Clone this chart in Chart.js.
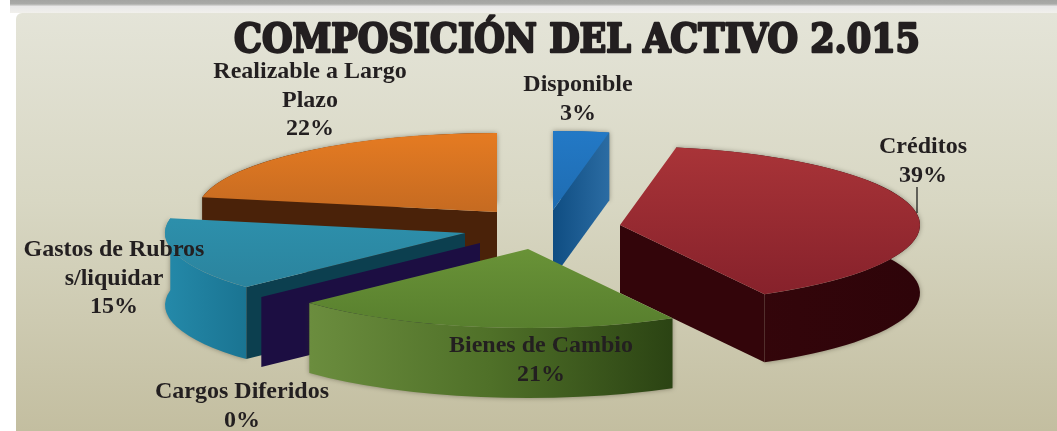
<!DOCTYPE html>
<html><head><meta charset="utf-8">
<script src="https://cdn.jsdelivr.net/npm/chart.js@4"></script>
<style>html,body{margin:0;padding:0;background:#fff}canvas{display:block}</style>
</head><body><canvas id="c" width="1057" height="431"></canvas>
<script>
const titleText = "COMPOSICIÓN DEL ACTIVO 2.015";
const categories = ["Disponible","Créditos","Bienes de Cambio","Cargos Diferidos","Gastos de Rubros s/liquidar","Realizable a Largo Plazo"];
const values = [3,39,21,0,15,22];
const labelLines = [["Disponible","3%"],["Créditos","39%"],["Bienes de Cambio","21%"],["Cargos Diferidos","0%"],["Gastos de Rubros","s/liquidar","15%"],["Realizable a Largo","Plazo","22%"]];

// presentation only
const RX = 300, RY = 79;
const apex = [[553,210],[620,225],[528,249],[480,243],[465,233],[497,212]];
const depth = [68,68,70,70,72,70];
const drawOrder = [5,0,1,4,3,2];
const topColors = [["#2379c6","#1a5f9c"],["#a93438","#84202a"],["#7aa640","#587f2e"],["#241248","#241248"],["#2f9bb9","#2a7f98"],["#e57b22","#a65a20"]];
const rimColors = [["#1b5e98","#2a6ba3"],["#36060b","#2e0409"],["#6b8d3e","#4f7028","#2b4313"],["#1c0e42","#1c0e42"],["#2489a9","#1a7492"],["#4a2209","#4a2209"]];
const faceColors = [["#0f4d82","#2b6ca3"],["#33050a","#33050a"],["#2b4313","#2b4313"],["#1c0e42","#1c0e42"],["#0c3f4f","#0c3f4f"],["#4a2209","#4a2209"]];
const labelPos = [[578,91],[923,153],[541,352],[242,398],[114,256],[310,78]];

function hGrad(ctx,x0,x1,stops){
  const g=ctx.createLinearGradient(x0,0,x1,0);
  stops.forEach((c,i)=>g.addColorStop(i/(stops.length-1),c));
  return g;
}
const pie3d = {
  id:'pie3d',
  beforeDraw(chart){
    const ctx=chart.ctx;
    ctx.save();
    ctx.fillStyle="#ffffff"; ctx.fillRect(0,0,1057,431);
    const bar=ctx.createLinearGradient(0,0,0,13);
    bar.addColorStop(0,"#a3a4a2"); bar.addColorStop(.3,"#a9aaa8"); bar.addColorStop(.5,"#e8e8e8"); bar.addColorStop(1,"#f1f0ec");
    ctx.fillStyle=bar; ctx.fillRect(10,0,1047,13);
    const g=ctx.createLinearGradient(0,13,0,431);
    g.addColorStop(0,"#e4e4d8"); g.addColorStop(.45,"#d8d7c3"); g.addColorStop(1,"#c3bea0");
    ctx.fillStyle=g;
    ctx.beginPath(); ctx.roundRect(16,13,1050,430,6); ctx.fill();
    ctx.restore();
  },
  beforeDatasetsDraw(chart){
    const ctx=chart.ctx, arcs=chart.getDatasetMeta(0).data;
    drawOrder.forEach(i=>{
      const arc=arcs[i], [ax,ay]=apex[i], d=depth[i], R=arc.outerRadius;
      const s=arc.startAngle, e=arc.endAngle;
      const pt=a=>[ax+RX*Math.cos(a), ay+RY*Math.sin(a)];
      // outer rim wall
      if(e>s){
        ctx.save();
        ctx.shadowColor="rgba(50,45,30,.45)"; ctx.shadowBlur=5;
        const xs=[pt(s)[0],pt(e)[0]];
        if(s<=0&&e>=0) xs.push(ax+RX);
        if(s<=Math.PI&&e>=Math.PI) xs.push(ax-RX);
        ctx.fillStyle=hGrad(ctx,Math.min(...xs),Math.max(...xs),rimColors[i]);
        ctx.beginPath();
        ctx.ellipse(ax,ay,RX,RY,0,s,e,false);
        ctx.ellipse(ax,ay+d,RX,RY,0,e,s,true);
        ctx.closePath(); ctx.fill();
        ctx.restore();
      }
      // flat radial walls that face the viewer
      const top=a=>a+Math.PI/2;
      const faces=[];
      if(Math.sin(top(s))<-1e-6) faces.push(s);
      if(e>s&&Math.sin(top(e))>1e-6) faces.push(e);
      faces.forEach(a=>{
        const p=pt(a);
        ctx.save();
        ctx.fillStyle=hGrad(ctx,Math.min(ax,p[0]),Math.max(ax,p[0]),faceColors[i]);
        ctx.beginPath();
        ctx.moveTo(ax,ay); ctx.lineTo(p[0],p[1]); ctx.lineTo(p[0],p[1]+d); ctx.lineTo(ax,ay+d);
        ctx.closePath(); ctx.fill();
        ctx.restore();
      });
      // top surface: the library's own arc element, squashed into perspective
      ctx.save();
      ctx.translate(ax,ay);
      ctx.scale(RX/R,RY/R);
      ctx.translate(-arc.x,-arc.y);
      const g=ctx.createLinearGradient(0,arc.y-R,0,arc.y+R);
      g.addColorStop(0,topColors[i][0]); g.addColorStop(1,topColors[i][1]);
      const saved=arc.options;
      arc.options=Object.assign({},saved,{backgroundColor:g,borderWidth:0});
      arc.draw(ctx);
      arc.options=saved;
      ctx.restore();
    });
    return false;
  },
  afterDraw(chart){
    const ctx=chart.ctx;
    ctx.save();
    ctx.fillStyle="#231f20"; ctx.strokeStyle="#231f20";
    ctx.textAlign="center"; ctx.textBaseline="alphabetic";
    // title
    ctx.font='bold 39px "DejaVu Serif"';
    ctx.lineWidth=2.4; ctx.lineJoin="round";
    ctx.fillText(titleText,577,52,686);
    ctx.strokeText(titleText,577,52,686);
    // leader line
    ctx.lineWidth=1.2; ctx.strokeStyle="#111";
    ctx.beginPath(); ctx.moveTo(917,187); ctx.lineTo(917,213); ctx.stroke();
    // labels
    ctx.font='bold 24px "Liberation Serif"';
    ctx.fillStyle="#231f20";
    labelLines.forEach((lines,i)=>{
      const [x,y]=labelPos[i];
      lines.forEach((t,k)=>ctx.fillText(t,x,y+k*28.5));
    });
    ctx.restore();
  }
};
new Chart(document.getElementById('c'),{
  type:'pie',
  data:{labels:categories,datasets:[{data:values,backgroundColor:topColors.map(c=>c[0]),borderWidth:0}]},
  options:{
    responsive:false,animation:false,rotation:0,
    plugins:{legend:{display:false},tooltip:{enabled:false},title:{display:false}}
  },
  plugins:[pie3d]
});
</script></body></html>
